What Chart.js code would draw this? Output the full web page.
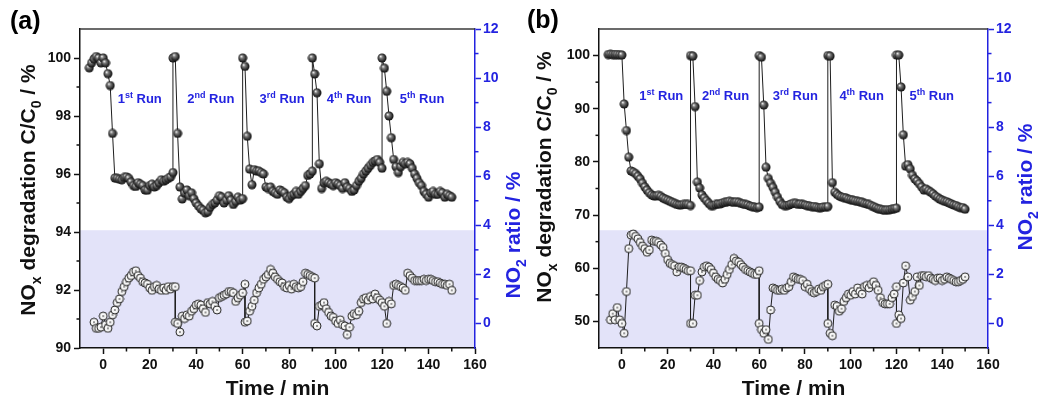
<!DOCTYPE html>
<html><head><meta charset="utf-8">
<script src="https://cdn.jsdelivr.net/npm/chart.js@4.4.1/dist/chart.umd.min.js"></script>
<style>
html,body{margin:0;padding:0;background:#fff;}
#wrap{position:relative;width:1049px;height:400px;overflow:hidden;background:#fff;}
.pane{position:absolute;top:0;height:400px;}
#pa{left:0;width:530px;}
#pb{left:520px;width:529px;}
</style></head><body>
<div id="wrap"><div class="pane" id="pa"><canvas id="ca"></canvas></div><div class="pane" id="pb"><canvas id="cb"></canvas></div></div>
<script>
const FONT = "'Liberation Sans', Arial, Helvetica, sans-serif";
const BLUE = '#2323e0';
const BLACK = '#111111';

// ---- data ----
const timeDeg = [-6,-5,-4,-3,-2,-1,0,1,2,3,4,5,6,7,8,9,10,11,12,13,14,15,16,17,18,19,20,21,22,23,24,25,26,27,28,29,30,
 30,31,32,33,34,35,36,37,38,39,40,41,42,43,44,45,46,47,48,49,50,51,52,53,54,55,56,57,58,59,60,
 60,61,62,63,64,65,66,67,68,69,70,71,72,73,74,75,76,77,78,79,80,81,82,83,84,85,86,87,88,89,90,
 90,91,92,93,94,95,96,97,98,99,100,101,102,103,104,105,106,107,108,109,110,111,112,113,114,115,116,117,118,119,120,
 120,121,122,123,124,125,126,127,128,129,130,131,132,133,134,135,136,137,138,139,140,141,142,143,144,145,146,147,148,149,150];

const degA = [99.66,99.83,99.97,100.05,100.0,99.83,100.0,99.83,99.46,99.05,97.4,95.86,95.85,95.82,95.8,95.88,95.9,95.85,95.72,95.6,95.57,95.7,95.65,95.6,95.45,95.44,95.6,95.65,95.55,95.6,95.7,95.8,95.75,95.8,95.85,95.9,96.05,
 100.0,100.05,97.4,95.55,95.14,95.35,95.45,95.25,95.35,95.15,95.0,94.9,94.8,94.75,94.66,94.7,94.85,94.95,95.0,95.1,95.25,95.2,95.0,95.1,95.25,95.1,94.95,95.05,95.2,95.1,95.15,
 100.0,99.71,97.3,96.17,95.63,96.15,96.1,96.1,96.05,96.0,95.55,95.5,95.55,95.4,95.35,95.3,95.45,95.4,95.35,95.2,95.15,95.25,95.3,95.4,95.3,95.4,95.5,95.6,95.95,96.0,96.1,
 100.0,99.45,98.8,96.35,95.5,95.7,95.75,95.7,95.65,95.6,95.7,95.65,95.6,95.5,95.7,95.55,95.5,95.4,95.45,95.6,95.75,95.85,96.0,96.1,96.2,96.3,96.4,96.45,96.5,96.4,96.2,
 100.0,99.65,98.85,98.0,97.25,96.5,96.25,96.05,96.25,96.4,96.35,96.4,96.35,96.2,96.0,95.85,95.7,95.6,95.4,95.3,95.2,95.35,95.4,95.3,95.3,95.4,95.35,95.2,95.3,95.25,95.2];

const timeNo2A = [-4,-3,-2,-1,0,1,2,3,4,5,6,7,8,9,10,11,12,13,14,15,16,17,18,19,20,21,22,23,24,25,26,27,28,29,30,31,
 31,32,33,34,35,36,37,38,39,40,41,42,43,44,45,46,47,48,49,50,51,52,53,54,55,56,57,58,59,60,61,
 61,62,63,64,65,66,67,68,69,70,71,72,73,74,75,76,77,78,79,80,81,82,83,84,85,86,87,88,89,90,91,
 91,92,93,94,95,96,97,98,99,100,101,102,103,104,105,106,107,108,109,110,111,112,113,114,115,116,117,118,119,120,
 121,122,123,124,125,126,127,128,129,130,131,132,133,134,135,136,137,138,139,140,141,142,143,144,145,146,147,148,149,150];

const no2A = [0.05,-0.2,-0.2,-0.15,0.3,-0.05,-0.2,0.05,0.35,0.55,0.85,1.0,1.3,1.5,1.7,1.85,1.95,2.1,2.15,1.95,1.85,1.7,1.65,1.6,1.45,1.35,1.5,1.55,1.4,1.35,1.45,1.35,1.5,1.4,1.5,1.5,
 0.05,0.0,-0.35,0.3,0.2,0.35,0.3,0.5,0.6,0.75,0.8,0.75,0.6,0.45,0.85,0.8,0.9,0.7,0.55,1.05,1.1,1.15,1.2,1.3,1.3,1.25,0.9,1.05,1.15,1.25,1.6,
 0.05,0.1,0.5,0.7,0.95,1.25,1.45,1.6,1.8,1.9,2.0,2.2,2.05,1.9,1.8,1.7,1.65,1.5,1.45,1.55,1.4,1.6,1.5,1.45,1.5,1.7,2.05,2.0,1.95,1.9,1.85,
 0.0,-0.1,0.7,0.75,0.85,0.6,0.45,0.3,0.25,0.1,0.0,0.15,-0.05,-0.1,-0.45,-0.15,0.3,0.4,0.35,0.5,0.85,1.0,1.05,0.95,1.1,1.0,1.2,1.05,0.95,0.85,
 0.7,0.0,0.9,0.8,1.55,1.6,1.55,1.5,1.45,1.35,2.05,1.95,1.85,1.75,1.75,1.75,1.75,1.8,1.75,1.8,1.8,1.75,1.7,1.7,1.65,1.6,1.6,1.55,1.6,1.35];

const degB = [100.2,100.25,100.2,100.2,100.2,100.15,100.1,90.9,85.9,80.9,78.3,78.1,77.8,77.3,76.8,76.0,75.3,74.7,74.2,73.8,73.6,73.6,73.7,73.5,73.2,73.0,72.8,72.6,72.4,72.2,72.0,71.9,71.9,72.0,72.0,72.0,71.8,
 100.0,99.9,90.4,76.2,75.1,73.8,73.2,72.7,72.2,71.8,71.8,72.0,72.1,72.1,72.3,72.4,72.5,72.6,72.5,72.4,72.5,72.4,72.2,72.1,72.0,71.9,71.7,71.6,71.5,71.4,71.5,
 100.0,99.7,90.7,79.0,76.9,76.0,75.2,74.3,73.4,72.6,72.0,71.8,71.8,71.9,72.1,72.2,72.2,72.0,72.1,72.0,71.9,71.8,71.7,71.6,71.6,71.5,71.4,71.4,71.5,71.5,71.6,
 100.0,99.9,76.1,74.3,73.9,73.6,73.4,73.3,73.2,73.0,72.9,72.8,72.7,72.6,72.5,72.4,72.2,72.1,72.0,71.8,71.6,71.4,71.2,71.1,71.0,70.9,71.0,71.0,71.1,71.2,71.3,
 100.1,100.1,94.1,85.1,79.2,79.5,78.7,77.5,76.8,76.4,75.9,75.3,74.7,74.9,74.6,74.3,74.0,73.6,73.3,73.0,72.8,72.6,72.5,72.3,72.1,71.9,71.8,71.6,71.4,71.4,71.1];

const timeNo2B = [-5,-4,-3,-2,-1,0,1,2,3,4,5,6,7,8,9,10,11,12,13,14,15,16,17,18,19,20,21,22,23,24,25,26,27,28,29,30,
 30,31,32,33,34,35,36,37,38,39,40,41,42,43,44,45,46,47,48,49,50,51,52,53,54,55,56,57,58,59,60,
 60,61,62,63,64,65,66,67,68,69,70,71,72,73,74,75,76,77,78,79,80,81,82,83,84,85,86,87,88,89,90,
 90,91,92,93,94,95,96,97,98,99,100,101,102,103,104,105,106,107,108,109,110,111,112,113,114,115,116,117,118,119,120,
 120,121,122,123,124,125,126,127,128,129,130,131,132,133,134,135,136,137,138,139,140,141,142,143,144,145,146,147,148,149,150];

const no2B = [0.15,0.4,0.15,0.65,0.15,0.0,-0.4,1.3,3.05,3.6,3.65,3.55,3.45,3.3,3.15,3.05,2.9,3.0,3.4,3.35,3.35,3.3,3.2,3.1,2.85,2.6,2.45,2.4,2.35,2.1,2.3,2.3,2.25,2.2,2.15,2.15,
 0.0,0.0,1.15,1.15,1.75,2.1,2.3,2.35,2.3,2.2,2.05,1.9,1.8,1.75,1.65,1.8,2.0,2.2,2.4,2.65,2.55,2.5,2.4,2.3,2.2,2.15,2.1,2.05,2.0,2.0,2.15,
 0.0,-0.25,-0.4,-0.25,-0.65,0.55,1.45,1.4,1.35,1.35,1.4,1.35,1.45,1.5,1.7,1.9,1.85,1.8,1.8,1.75,1.5,1.6,1.4,1.3,1.25,1.3,1.4,1.35,1.5,1.55,1.6,
 0.0,-0.4,-0.5,0.75,0.7,0.5,0.6,0.9,1.05,1.2,1.15,1.3,1.2,1.45,1.3,1.2,1.5,1.55,1.45,1.6,1.7,1.55,1.35,1.05,0.85,0.8,0.8,0.8,1.05,1.2,1.5,
 0.0,0.35,0.2,1.65,2.35,1.9,0.95,1.1,1.3,1.9,1.55,1.95,1.95,1.9,1.95,1.85,1.8,1.75,1.85,1.85,1.75,1.8,1.9,1.85,1.8,1.75,1.7,1.7,1.75,1.8,1.9];

// ---- ticks ----
const xTicks = [0,20,40,60,80,100,120,140,160];
const xMinor = [10,30,50,70,90,110,130,150];
const yTicksA = [90,92,94,96,98,100];
const yMinorA = [91,93,95,97,99];
const yTicksB = [50,60,70,80,90,100];
const yMinorB = [55,65,75,85,95];
const rTicks = [0,2,4,6,8,10,12];
const rMinor = [1,3,5,7,9,11];
const runOrd = [['1','st'],['2','nd'],['3','rd'],['4','th'],['5','th']];
const runTimesA = [15.7,46.3,77,105.8,137.2];
const runTimesB = [17.2,45.3,75.8,104.8,135.4];

// ---- markers ----
function makeBall(){
  const c=document.createElement('canvas'); c.width=c.height=10;
  const g=c.getContext('2d');
  const gr=g.createRadialGradient(3.5,3.3,0.2,5,5,5);
  gr.addColorStop(0,'#f4f4f4'); gr.addColorStop(0.3,'#7a7a7a'); gr.addColorStop(0.75,'#262626'); gr.addColorStop(1,'#050505');
  g.fillStyle=gr; g.beginPath(); g.arc(5,5,4.5,0,Math.PI*2); g.fill();
  return c;
}
function makeRing(){
  const c=document.createElement('canvas'); c.width=c.height=10;
  const g=c.getContext('2d');
  const gr=g.createRadialGradient(4,4,0.5,5,5,5);
  gr.addColorStop(0,'#ffffff'); gr.addColorStop(0.6,'#f0f0f0'); gr.addColorStop(1,'#b8b8b8');
  g.fillStyle=gr; g.beginPath(); g.arc(5,5,4,0,Math.PI*2); g.fill();
  g.strokeStyle='#2a2a2a'; g.lineWidth=1; g.stroke();
  g.fillStyle='#666'; g.beginPath(); g.arc(5,5,0.9,0,Math.PI*2); g.fill();
  return c;
}
const BALL = makeBall(), RING = makeRing();

// ---- rich text ----
function seg(t,size,kind){
  const s = kind ? Math.round(size*0.66) : size;
  const dy = kind==='sub' ? size*0.28 : kind==='sup' ? -size*0.42 : 0;
  return {t, f:`bold ${s}px ${FONT}`, dy};
}
function drawRich(ctx, segs, x, y, rot, color, align){
  ctx.save();
  ctx.translate(x,y); ctx.rotate(rot);
  let w=0; segs.forEach(s=>{ctx.font=s.f; w+=ctx.measureText(s.t).width;});
  let cx = align==='left' ? 0 : -w/2;
  ctx.fillStyle=color; ctx.textBaseline='alphabetic'; ctx.textAlign='left';
  segs.forEach(s=>{ctx.font=s.f; ctx.fillText(s.t,cx,s.dy); cx+=ctx.measureText(s.t).width;});
  ctx.restore();
}

function makeDecor(cfg){
  return {
    id:'decor',
    beforeDraw(chart){
      const ctx=chart.ctx, a=chart.chartArea, y2=chart.scales.y2;
      const top=y2.getPixelForValue(cfg.shadeTop);
      ctx.save(); ctx.fillStyle='#e3e3f9';
      ctx.fillRect(a.left, top, a.right-a.left, a.bottom-top);
      ctx.restore();
    },
    afterDraw(chart){
      const ctx=chart.ctx, a=chart.chartArea, sx=chart.scales.x, sy=chart.scales.y, s2=chart.scales.y2;
      ctx.save();
      // top frame
      ctx.strokeStyle='#3a3a3a'; ctx.lineWidth=1.5;
      ctx.beginPath(); ctx.moveTo(a.left,a.top); ctx.lineTo(a.right,a.top); ctx.stroke();
      // minor ticks
      ctx.lineWidth=1.5;
      ctx.strokeStyle=BLACK;
      cfg.xMinor.forEach(v=>{const p=sx.getPixelForValue(v); ctx.beginPath(); ctx.moveTo(p,a.bottom); ctx.lineTo(p,a.bottom+3.5); ctx.stroke();});
      cfg.yMinor.forEach(v=>{const p=sy.getPixelForValue(v); ctx.beginPath(); ctx.moveTo(a.left,p); ctx.lineTo(a.left-3.5,p); ctx.stroke();});
      ctx.strokeStyle=BLUE;
      cfg.rMinor.forEach(v=>{const p=s2.getPixelForValue(v); ctx.beginPath(); ctx.moveTo(a.right,p); ctx.lineTo(a.right+3.5,p); ctx.stroke();});
      ctx.restore();
      // titles
      drawRich(ctx,[seg('NO',21),seg('x',21,'sub'),seg(' degradation C/C',21),seg('0',21,'sub'),seg(' / %',21)],
        cfg.leftTitle[0], cfg.leftTitle[1], -Math.PI/2, BLACK);
      drawRich(ctx,[seg('NO',21),seg('2',21,'sub'),seg(' ratio / %',21)],
        cfg.rightTitle[0], cfg.rightTitle[1], -Math.PI/2, BLUE);
      drawRich(ctx,[seg('Time / min',21)], (a.left+a.right)/2, cfg.xTitleY, 0, BLACK);
      drawRich(ctx,[seg(cfg.panel,25)], cfg.panelPos[0], cfg.panelPos[1], 0, '#000', 'left');
      // run labels
      cfg.runTimes.forEach((t,i)=>{
        const px=sx.getPixelForValue(t), py=sy.getPixelForValue(cfg.runLevel)+13*0.36;
        drawRich(ctx,[seg(runOrd[i][0],13),seg(runOrd[i][1],13,'sup'),seg(' Run',13)], px, py, 0, BLUE);
      });
    }
  };
}

const pts=(ts,vs)=>ts.map((t,i)=>({x:t,y:vs[i]}));

function build(canvasId, degVals, no2Times, no2Vals, yMin, yMax, yTicks, cfg, leftW, rightW){
  const tickFont={family:FONT, size:14, weight:'bold'};
  return new Chart(document.getElementById(canvasId),{
    type:'line',
    data:{datasets:[
      {data:pts(no2Times,no2Vals), yAxisID:'y2', borderColor:'#1e1e1e', borderWidth:1, pointStyle:RING, pointRadius:4.5, tension:0},
      {data:pts(timeDeg,degVals), yAxisID:'y', borderColor:'#1e1e1e', borderWidth:1, pointStyle:BALL, pointRadius:4.5, tension:0}
    ]},
    options:{
      responsive:true, maintainAspectRatio:false, animation:false, devicePixelRatio:1,
      layout:{padding:{top:29,left:0,right:0,bottom:0}},
      plugins:{legend:{display:false}, tooltip:{enabled:false}},
      events:[],
      scales:{
        x:{type:'linear', min:-10, max:160,
          afterBuildTicks:s=>{s.ticks=xTicks.map(v=>({value:v}));},
          afterFit:s=>{s.height=52;},
          ticks:{font:tickFont, color:BLACK, padding:3, maxRotation:0, autoSkip:false},
          grid:{drawOnChartArea:false, drawTicks:true, tickLength:6, tickColor:BLACK, tickWidth:1.5},
          border:{color:BLACK, width:1.5}},
        y:{type:'linear', position:'left', min:yMin, max:yMax,
          afterBuildTicks:s=>{s.ticks=yTicks.map(v=>({value:v}));},
          afterFit:s=>{s.width=leftW;},
          ticks:{font:tickFont, color:BLACK, padding:3, autoSkip:false},
          grid:{drawOnChartArea:false, drawTicks:true, tickLength:6, tickColor:BLACK, tickWidth:1.5},
          border:{color:BLACK, width:1.5}},
        y2:{type:'linear', position:'right', min:-1, max:12,
          afterBuildTicks:s=>{s.ticks=rTicks.map(v=>({value:v}));},
          afterFit:s=>{s.width=rightW;},
          ticks:{font:tickFont, color:BLUE, padding:2, autoSkip:false},
          grid:{drawOnChartArea:false, drawTicks:true, tickLength:6, tickColor:BLUE, tickWidth:1.5},
          border:{color:BLUE, width:1.5}}
      }
    },
    plugins:[makeDecor(cfg)]
  });
}

build('ca', degA, timeNo2A, no2A, 90, 101, yTicksA, {
  shadeTop:3.8, xMinor, yMinor:yMinorA, rMinor,
  leftTitle:[35,190], rightTitle:[520,235], xTitleY:395,
  panel:'(a)', panelPos:[10,29], runTimes:runTimesA, runLevel:98.6
}, 80, 55);

build('cb', degB, timeNo2B, no2B, 45, 105, yTicksB, {
  shadeTop:3.8, xMinor, yMinor:yMinorB, rMinor,
  leftTitle:[31,177], rightTitle:[512,187], xTitleY:395,
  panel:'(b)', panelPos:[7,28], runTimes:runTimesB, runLevel:92.5
}, 79, 61);
</script></body></html>
